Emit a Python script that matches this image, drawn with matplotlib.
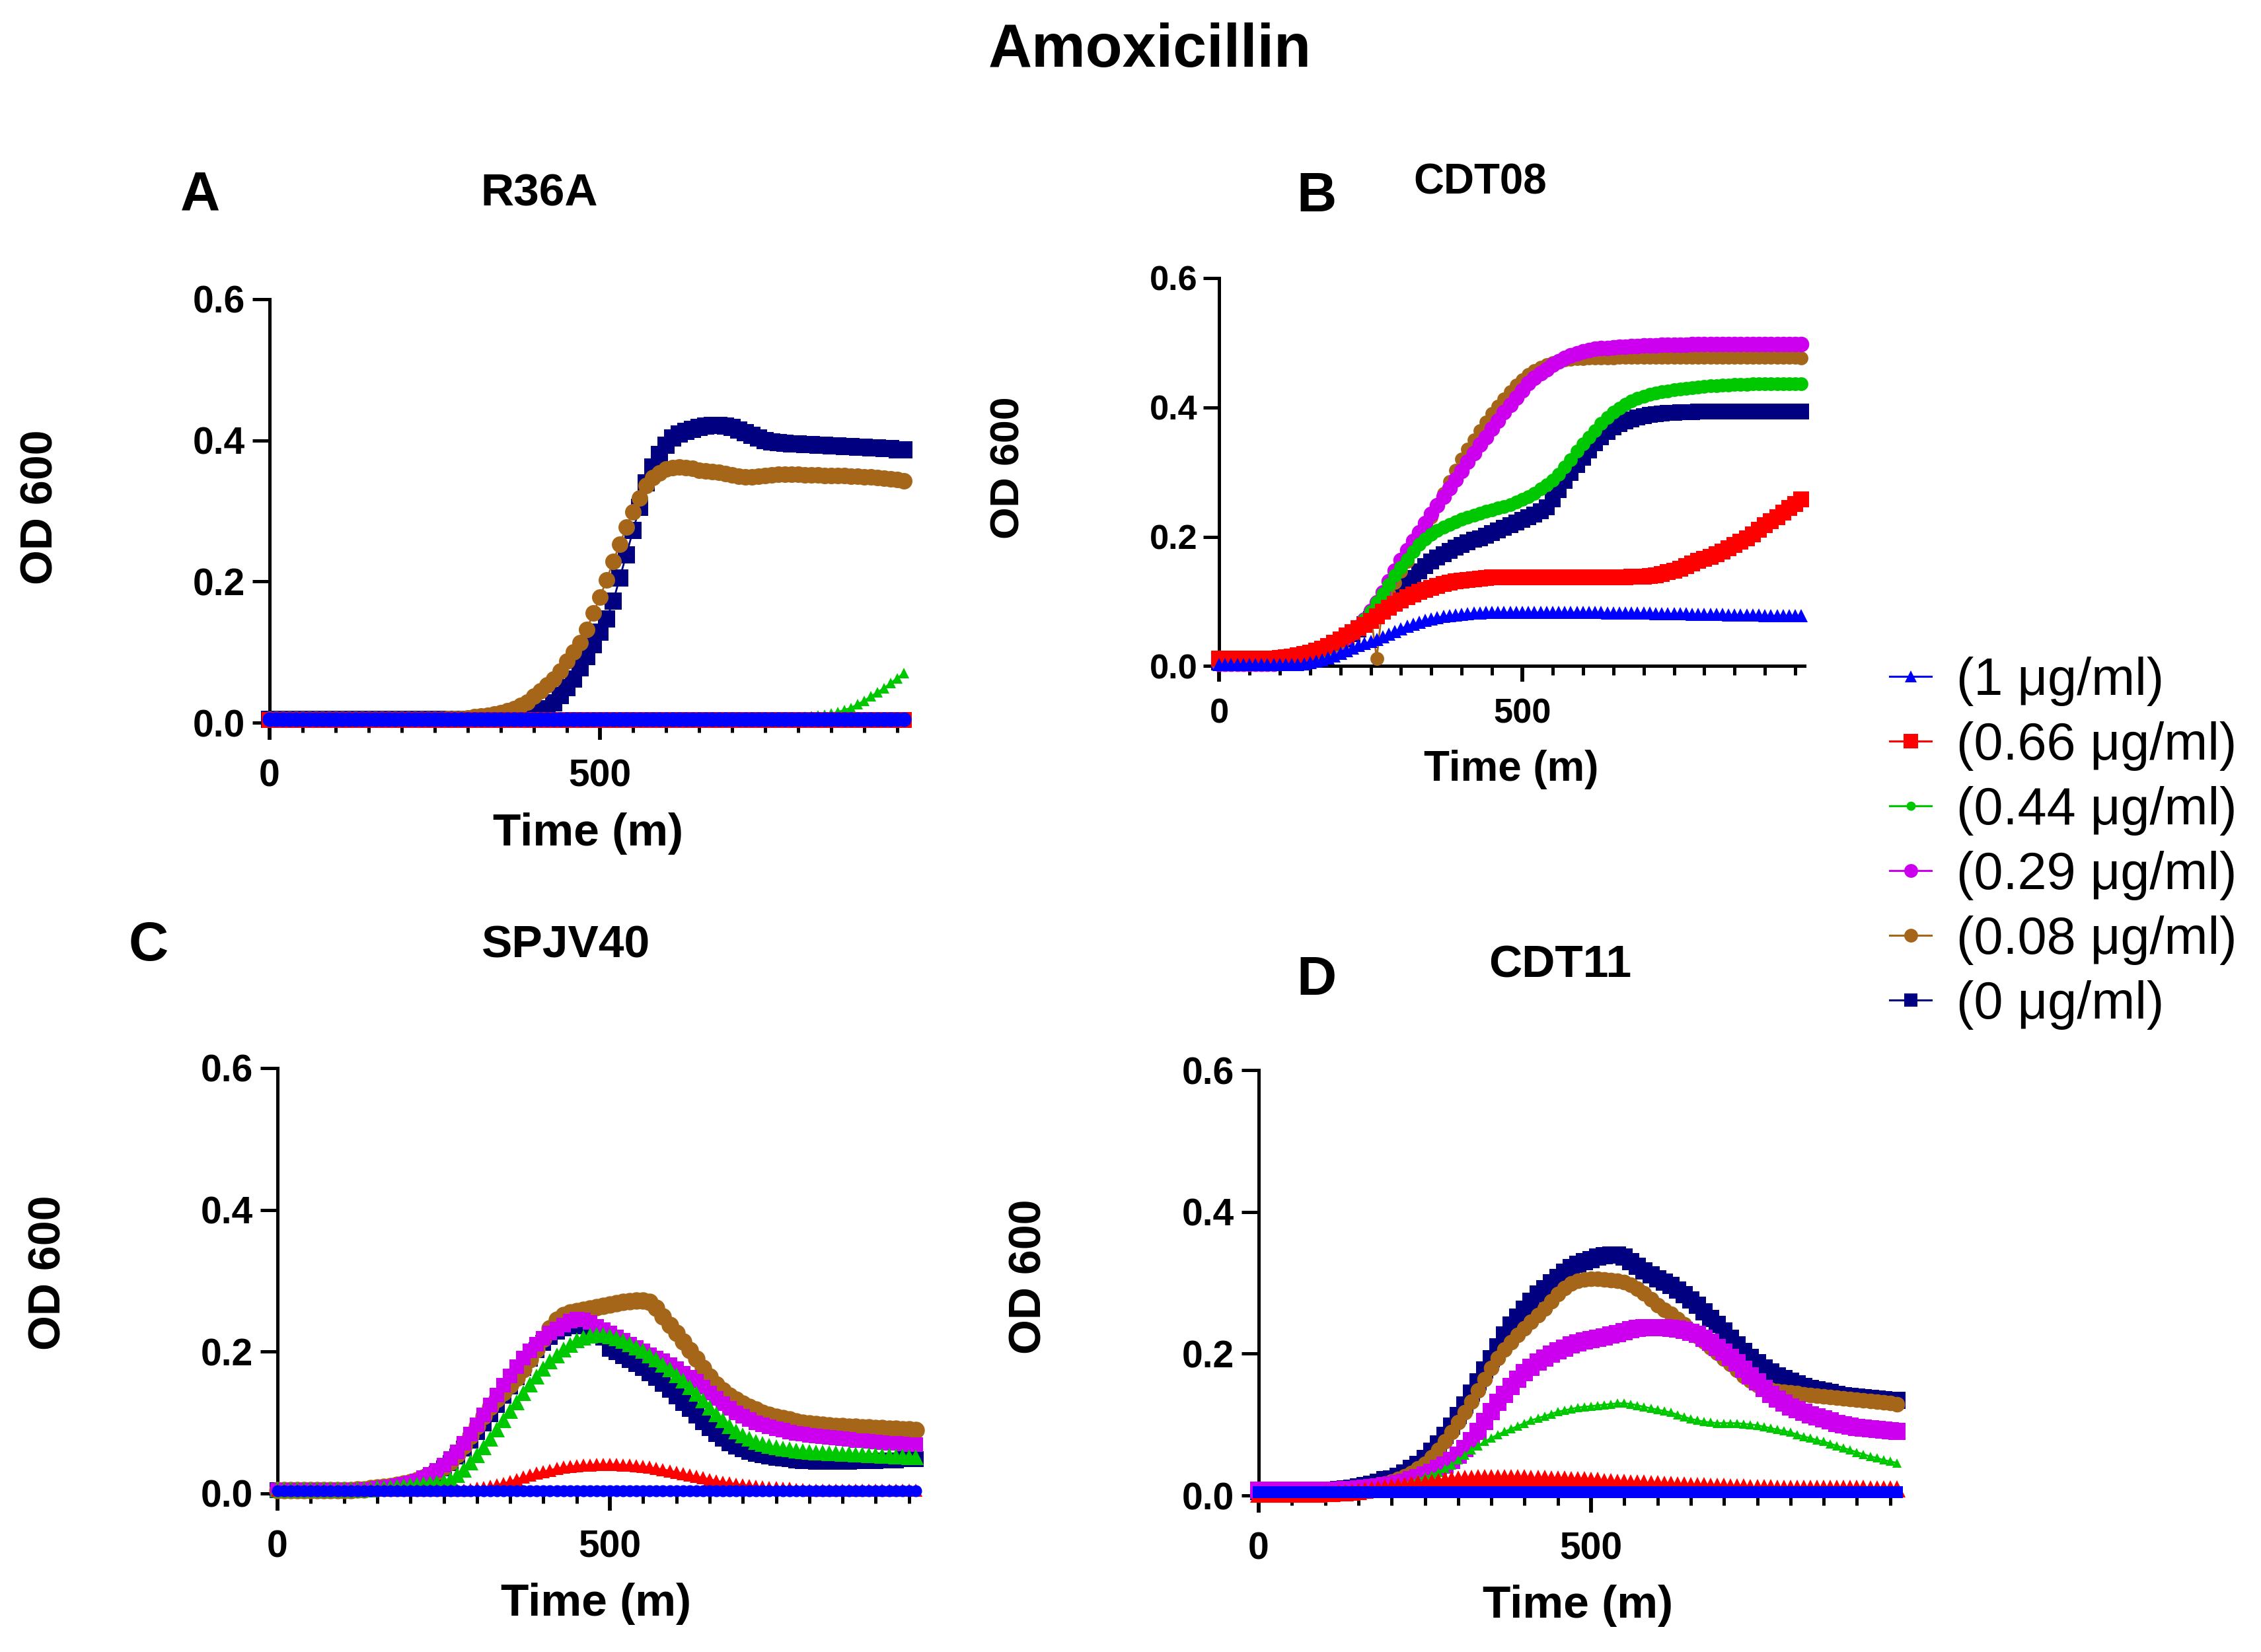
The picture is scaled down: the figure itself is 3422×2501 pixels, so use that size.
import matplotlib
matplotlib.use('Agg')
import matplotlib.pyplot as plt
from matplotlib.lines import Line2D
from matplotlib.ticker import FixedLocator, FormatStrFormatter

plt.rcParams['font.family'] = ['Liberation Sans', 'DejaVu Sans']
plt.rcParams['font.weight'] = 'bold'

W, H, DPI = 3422, 2501, 100

# ---------------- data ----------------
TIME = list(range(0, 961, 10))  # minutes

CONC_LABELS = ['(1 μg/ml)', '(0.66 μg/ml)', '(0.44 μg/ml)',
               '(0.29 μg/ml)', '(0.08 μg/ml)', '(0 μg/ml)']
COLORS = ['#0000FF', '#FF0000', '#00C800', '#CC00EE', '#A66619', '#000080']

STRAINS = ['R36A', 'CDT08', 'SPJV40', 'CDT11']
LETTERS = ['A', 'B', 'C', 'D']
TITLE = 'Amoxicillin'
XLABEL = 'Time (m)'
YLABEL = 'OD 600'
YTICKS = [0.0, 0.2, 0.4, 0.6]
XTICKS = [0, 500]

# ---- R36A ----
R36A_1 = [
 0.005,0.005,0.005,0.005,0.005,0.005,0.005,0.005,0.005,0.005,
 0.005,0.005,0.005,0.005,0.005,0.005,0.005,0.005,0.005,0.005,
 0.005,0.005,0.005,0.005,0.005,0.005,0.005,0.005,0.005,0.005,
 0.005,0.005,0.005,0.005,0.005,0.005,0.005,0.005,0.005,0.005,
 0.005,0.005,0.005,0.005,0.005,0.005,0.005,0.005,0.005,0.005,
 0.005,0.005,0.005,0.005,0.005,0.005,0.005,0.005,0.005,0.005,
 0.005,0.005,0.005,0.005,0.005,0.005,0.005,0.005,0.005,0.005,
 0.005,0.005,0.005,0.005,0.005,0.005,0.005,0.005,0.005,0.005,
 0.005,0.005,0.005,0.005,0.005,0.005,0.005,0.005,0.005,0.005,
 0.005,0.005,0.005,0.005,0.005,0.005,0.005]
R36A_066 = [
 0.004,0.004,0.004,0.004,0.004,0.004,0.004,0.004,0.004,0.004,
 0.004,0.004,0.004,0.004,0.004,0.004,0.004,0.004,0.004,0.004,
 0.004,0.004,0.004,0.004,0.004,0.004,0.004,0.004,0.004,0.004,
 0.004,0.004,0.004,0.004,0.004,0.004,0.004,0.004,0.004,0.004,
 0.004,0.004,0.004,0.004,0.004,0.004,0.004,0.004,0.004,0.004,
 0.004,0.004,0.004,0.004,0.004,0.004,0.004,0.004,0.004,0.004,
 0.004,0.004,0.004,0.004,0.004,0.004,0.004,0.004,0.004,0.004,
 0.004,0.004,0.004,0.004,0.004,0.004,0.004,0.004,0.004,0.004,
 0.004,0.004,0.004,0.004,0.004,0.004,0.004,0.004,0.004,0.004,
 0.004,0.004,0.004,0.004,0.004,0.004,0.004]
R36A_044 = [
 0.004,0.004,0.004,0.004,0.004,0.004,0.004,0.004,0.004,0.004,
 0.004,0.004,0.004,0.004,0.004,0.004,0.004,0.004,0.004,0.004,
 0.004,0.004,0.004,0.004,0.004,0.004,0.004,0.004,0.004,0.004,
 0.004,0.004,0.004,0.004,0.004,0.004,0.004,0.004,0.004,0.004,
 0.004,0.004,0.004,0.004,0.004,0.004,0.004,0.004,0.004,0.004,
 0.004,0.004,0.004,0.004,0.004,0.004,0.004,0.004,0.004,0.004,
 0.004,0.004,0.004,0.004,0.004,0.004,0.004,0.004,0.004,0.004,
 0.004,0.004,0.004,0.004,0.004,0.004,0.004,0.004,0.005,0.006,
 0.007,0.008,0.009,0.010,0.011,0.013,0.015,0.018,0.021,0.026,
 0.031,0.037,0.043,0.049,0.056,0.063,0.070]
R36A_029 = [
 0.004,0.004,0.004,0.004,0.004,0.004,0.004,0.004,0.004,0.004,
 0.004,0.004,0.004,0.004,0.004,0.004,0.004,0.004,0.004,0.004,
 0.004,0.004,0.004,0.004,0.004,0.004,0.004,0.004,0.004,0.004,
 0.004,0.004,0.004,0.004,0.004,0.004,0.004,0.004,0.004,0.004,
 0.004,0.004,0.004,0.004,0.004,0.004,0.004,0.004,0.004,0.004,
 0.004,0.004,0.004,0.004,0.004,0.004,0.004,0.004,0.004,0.004,
 0.004,0.004,0.004,0.004,0.004,0.004,0.004,0.004,0.004,0.004,
 0.004,0.004,0.004,0.004,0.004,0.004,0.004,0.004,0.004,0.004,
 0.004,0.004,0.004,0.004,0.004,0.004,0.004,0.004,0.004,0.004,
 0.004,0.004,0.004,0.004,0.004,0.004,0.004]
R36A_008 = [
 0.005,0.005,0.005,0.005,0.005,0.005,0.005,0.005,0.005,0.005,
 0.005,0.005,0.005,0.005,0.005,0.005,0.005,0.005,0.005,0.005,
 0.005,0.005,0.005,0.005,0.005,0.005,0.005,0.006,0.006,0.006,
 0.007,0.008,0.009,0.010,0.012,0.014,0.017,0.020,0.024,0.029,
 0.037,0.045,0.053,0.062,0.073,0.087,0.100,0.113,0.132,0.155,
 0.178,0.202,0.228,0.253,0.277,0.299,0.318,0.336,0.347,0.354,
 0.359,0.361,0.362,0.361,0.360,0.358,0.357,0.356,0.355,0.353,
 0.351,0.349,0.348,0.348,0.349,0.350,0.351,0.352,0.352,0.352,
 0.352,0.351,0.351,0.351,0.350,0.350,0.350,0.350,0.349,0.349,
 0.348,0.348,0.347,0.346,0.345,0.344,0.343]
R36A_0 = [
 0.005,0.005,0.005,0.005,0.005,0.005,0.005,0.005,0.005,0.005,
 0.005,0.005,0.005,0.005,0.005,0.005,0.005,0.005,0.005,0.005,
 0.005,0.005,0.005,0.005,0.005,0.005,0.005,0.005,0.005,0.005,
 0.005,0.005,0.005,0.005,0.005,0.005,0.005,0.006,0.007,0.008,
 0.010,0.015,0.020,0.028,0.038,0.050,0.062,0.078,0.094,0.110,
 0.128,0.147,0.172,0.205,0.238,0.272,0.305,0.340,0.362,0.380,
 0.393,0.403,0.409,0.413,0.416,0.418,0.420,0.421,0.421,0.420,
 0.418,0.415,0.411,0.407,0.403,0.400,0.398,0.397,0.396,0.395,
 0.395,0.394,0.394,0.393,0.393,0.392,0.392,0.391,0.391,0.390,
 0.390,0.389,0.389,0.388,0.388,0.387,0.387]

# ---- CDT08 ----
CDT08_1 = [
 0.003,0.003,0.003,0.003,0.003,0.003,0.003,0.003,0.003,0.003,
 0.003,0.003,0.003,0.003,0.004,0.006,0.008,0.010,0.013,0.016,
 0.020,0.024,0.028,0.032,0.035,0.038,0.041,0.045,0.049,0.054,
 0.058,0.062,0.065,0.068,0.071,0.073,0.075,0.077,0.078,0.079,
 0.080,0.081,0.082,0.082,0.083,0.083,0.083,0.083,0.083,0.083,
 0.083,0.083,0.083,0.083,0.083,0.083,0.083,0.083,0.083,0.083,
 0.083,0.083,0.083,0.083,0.082,0.082,0.082,0.082,0.082,0.082,
 0.082,0.082,0.081,0.081,0.081,0.081,0.081,0.081,0.080,0.080,
 0.080,0.080,0.080,0.080,0.079,0.079,0.079,0.079,0.079,0.079,
 0.078,0.078,0.078,0.078,0.078,0.078,0.078]
CDT08_066 = [
 0.012,0.012,0.012,0.012,0.012,0.012,0.012,0.012,0.012,0.012,
 0.013,0.014,0.015,0.017,0.019,0.021,0.024,0.027,0.031,0.036,
 0.041,0.047,0.053,0.059,0.064,0.070,0.077,0.084,0.090,0.096,
 0.102,0.107,0.111,0.115,0.118,0.121,0.124,0.127,0.129,0.131,
 0.132,0.133,0.134,0.135,0.136,0.137,0.137,0.137,0.137,0.137,
 0.137,0.137,0.137,0.137,0.137,0.137,0.137,0.137,0.137,0.137,
 0.137,0.137,0.137,0.137,0.137,0.137,0.137,0.137,0.138,0.138,
 0.138,0.139,0.140,0.142,0.145,0.148,0.151,0.155,0.159,0.163,
 0.166,0.169,0.173,0.177,0.182,0.187,0.192,0.198,0.204,0.211,
 0.218,0.224,0.230,0.237,0.244,0.251,0.258]
CDT08_044 = [
 0.005,0.005,0.005,0.005,0.005,0.005,0.005,0.005,0.005,0.005,
 0.006,0.007,0.008,0.010,0.012,0.015,0.018,0.022,0.027,0.032,
 0.038,0.045,0.053,0.062,0.072,0.084,0.098,0.112,0.126,0.140,
 0.153,0.165,0.177,0.188,0.197,0.204,0.210,0.215,0.219,0.223,
 0.227,0.230,0.233,0.236,0.239,0.241,0.244,0.247,0.250,0.254,
 0.258,0.262,0.267,0.274,0.280,0.287,0.297,0.308,0.319,0.332,
 0.343,0.354,0.364,0.375,0.384,0.392,0.399,0.405,0.410,0.414,
 0.417,0.420,0.422,0.424,0.425,0.427,0.428,0.429,0.430,0.431,
 0.432,0.433,0.433,0.434,0.434,0.435,0.435,0.435,0.436,0.436,
 0.436,0.436,0.436,0.436,0.436,0.436,0.436]
CDT08_029 = [
 0.004,0.004,0.004,0.004,0.004,0.004,0.004,0.004,0.004,0.004,
 0.005,0.006,0.007,0.009,0.011,0.014,0.017,0.021,0.026,0.031,
 0.037,0.044,0.052,0.061,0.072,0.085,0.099,0.114,0.131,0.148,
 0.164,0.179,0.193,0.207,0.221,0.235,0.249,0.262,0.275,0.288,
 0.302,0.316,0.329,0.342,0.354,0.367,0.379,0.392,0.404,0.415,
 0.426,0.437,0.446,0.453,0.459,0.466,0.471,0.476,0.480,0.483,
 0.486,0.488,0.490,0.491,0.492,0.493,0.494,0.494,0.495,0.495,
 0.496,0.496,0.496,0.497,0.497,0.497,0.497,0.497,0.498,0.498,
 0.498,0.498,0.498,0.498,0.498,0.498,0.498,0.498,0.498,0.498,
 0.498,0.498,0.498,0.498,0.498,0.498,0.498]
CDT08_008 = [
 0.005,0.005,0.005,0.005,0.005,0.005,0.005,0.005,0.005,0.005,
 0.006,0.007,0.008,0.010,0.012,0.015,0.018,0.022,0.027,0.032,
 0.038,0.045,0.053,0.062,0.071,0.080,0.012,0.098,0.113,0.129,
 0.146,0.162,0.178,0.195,0.212,0.230,0.249,0.267,0.285,0.303,
 0.320,0.335,0.350,0.364,0.377,0.390,0.402,0.413,0.424,0.434,
 0.443,0.451,0.457,0.462,0.466,0.469,0.471,0.473,0.474,0.475,
 0.475,0.476,0.476,0.476,0.476,0.476,0.477,0.477,0.477,0.477,
 0.477,0.477,0.477,0.477,0.477,0.477,0.477,0.477,0.477,0.477,
 0.477,0.477,0.477,0.477,0.477,0.477,0.477,0.477,0.477,0.477,
 0.477,0.477,0.477,0.477,0.477,0.477,0.476]
CDT08_0 = [
 0.006,0.006,0.006,0.006,0.006,0.006,0.006,0.006,0.006,0.006,
 0.007,0.007,0.008,0.009,0.011,0.013,0.016,0.019,0.023,0.028,
 0.034,0.041,0.049,0.057,0.065,0.073,0.081,0.089,0.097,0.106,
 0.116,0.126,0.136,0.146,0.155,0.162,0.168,0.173,0.178,0.183,
 0.187,0.191,0.195,0.198,0.202,0.206,0.210,0.214,0.218,0.222,
 0.226,0.230,0.234,0.239,0.246,0.258,0.272,0.286,0.299,0.311,
 0.322,0.333,0.344,0.354,0.362,0.369,0.374,0.378,0.381,0.384,
 0.386,0.388,0.389,0.390,0.391,0.391,0.392,0.392,0.392,0.393,
 0.393,0.393,0.393,0.393,0.393,0.393,0.393,0.393,0.393,0.393,
 0.393,0.393,0.393,0.393,0.393,0.393,0.393]

# ---- SPJV40 ----
SPJV40_1 = [
 0.004,0.004,0.004,0.004,0.004,0.004,0.004,0.004,0.004,0.004,
 0.004,0.004,0.004,0.004,0.004,0.004,0.004,0.004,0.004,0.004,
 0.004,0.004,0.004,0.004,0.004,0.004,0.004,0.004,0.004,0.004,
 0.004,0.004,0.004,0.004,0.004,0.004,0.004,0.004,0.004,0.004,
 0.004,0.004,0.004,0.004,0.004,0.004,0.004,0.004,0.004,0.004,
 0.004,0.004,0.004,0.004,0.004,0.004,0.004,0.004,0.004,0.004,
 0.004,0.004,0.004,0.004,0.004,0.004,0.004,0.004,0.004,0.004,
 0.004,0.004,0.004,0.004,0.004,0.004,0.004,0.004,0.004,0.004,
 0.004,0.004,0.004,0.004,0.004,0.004,0.004,0.004,0.004,0.004,
 0.004,0.004,0.004,0.004,0.004,0.004,0.004]
SPJV40_066 = [
 0.005,0.005,0.005,0.005,0.005,0.005,0.005,0.005,0.005,0.005,
 0.005,0.005,0.005,0.005,0.005,0.005,0.005,0.005,0.005,0.005,
 0.005,0.005,0.005,0.005,0.005,0.005,0.005,0.005,0.005,0.006,
 0.007,0.008,0.010,0.012,0.014,0.017,0.020,0.023,0.026,0.029,
 0.031,0.033,0.035,0.037,0.038,0.039,0.040,0.040,0.041,0.041,
 0.041,0.041,0.040,0.040,0.039,0.038,0.037,0.035,0.034,0.032,
 0.030,0.028,0.026,0.024,0.022,0.020,0.018,0.016,0.015,0.013,
 0.012,0.011,0.010,0.009,0.008,0.008,0.007,0.007,0.006,0.006,
 0.005,0.005,0.005,0.005,0.005,0.005,0.005,0.005,0.005,0.005,
 0.005,0.005,0.005,0.005,0.005,0.005,0.005]
SPJV40_044 = [
 0.006,0.006,0.006,0.006,0.006,0.006,0.006,0.006,0.006,0.006,
 0.006,0.006,0.006,0.006,0.006,0.007,0.007,0.008,0.009,0.010,
 0.011,0.012,0.013,0.014,0.015,0.017,0.020,0.026,0.034,0.044,
 0.054,0.065,0.077,0.090,0.103,0.116,0.129,0.142,0.154,0.165,
 0.176,0.186,0.195,0.203,0.210,0.216,0.220,0.223,0.224,0.224,
 0.222,0.219,0.215,0.211,0.206,0.201,0.195,0.189,0.182,0.175,
 0.167,0.159,0.150,0.141,0.131,0.121,0.112,0.103,0.095,0.088,
 0.082,0.077,0.073,0.070,0.067,0.065,0.063,0.062,0.061,0.060,
 0.059,0.058,0.058,0.057,0.057,0.056,0.056,0.055,0.055,0.054,
 0.054,0.053,0.053,0.052,0.052,0.051,0.051]
SPJV40_029 = [
 0.005,0.005,0.005,0.005,0.005,0.005,0.005,0.005,0.005,0.005,
 0.005,0.005,0.005,0.006,0.006,0.007,0.008,0.009,0.011,0.013,
 0.015,0.018,0.022,0.027,0.033,0.040,0.049,0.059,0.071,0.084,
 0.097,0.111,0.125,0.139,0.153,0.166,0.179,0.191,0.201,0.211,
 0.219,0.226,0.232,0.238,0.243,0.246,0.245,0.241,0.236,0.231,
 0.226,0.221,0.216,0.211,0.206,0.201,0.196,0.191,0.187,0.182,
 0.176,0.170,0.164,0.158,0.150,0.142,0.134,0.127,0.120,0.114,
 0.109,0.104,0.100,0.097,0.094,0.091,0.089,0.087,0.085,0.084,
 0.082,0.081,0.080,0.079,0.078,0.077,0.076,0.075,0.075,0.074,
 0.073,0.072,0.071,0.071,0.070,0.069,0.069]
SPJV40_008 = [
 0.005,0.005,0.005,0.005,0.005,0.005,0.005,0.005,0.005,0.005,
 0.005,0.005,0.006,0.006,0.007,0.008,0.009,0.010,0.012,0.014,
 0.016,0.019,0.022,0.026,0.031,0.037,0.045,0.055,0.067,0.081,
 0.095,0.109,0.122,0.133,0.143,0.153,0.163,0.175,0.189,0.203,
 0.218,0.233,0.245,0.252,0.255,0.257,0.259,0.261,0.263,0.265,
 0.266,0.268,0.270,0.271,0.272,0.272,0.270,0.262,0.250,0.238,
 0.226,0.214,0.202,0.190,0.177,0.165,0.154,0.145,0.138,0.132,
 0.127,0.122,0.118,0.114,0.111,0.108,0.106,0.104,0.102,0.100,
 0.099,0.098,0.097,0.096,0.095,0.095,0.094,0.094,0.093,0.093,
 0.092,0.092,0.091,0.091,0.090,0.090,0.089]
SPJV40_0 = [
 0.005,0.005,0.005,0.005,0.005,0.005,0.005,0.005,0.005,0.005,
 0.005,0.005,0.005,0.006,0.006,0.007,0.008,0.009,0.010,0.012,
 0.014,0.016,0.019,0.023,0.028,0.035,0.043,0.052,0.063,0.075,
 0.087,0.099,0.112,0.125,0.138,0.151,0.164,0.177,0.190,0.202,
 0.212,0.221,0.228,0.233,0.236,0.237,0.236,0.233,0.227,0.220,
 0.204,0.199,0.194,0.188,0.183,0.177,0.170,0.163,0.155,0.146,
 0.137,0.128,0.119,0.110,0.101,0.092,0.084,0.077,0.071,0.066,
 0.062,0.059,0.056,0.054,0.052,0.050,0.049,0.048,0.047,0.046,
 0.046,0.045,0.045,0.045,0.045,0.045,0.045,0.046,0.046,0.046,
 0.046,0.047,0.047,0.047,0.048,0.048,0.048]

# ---- CDT11 ----
CDT11_1 = [
 0.005,0.005,0.005,0.005,0.005,0.005,0.005,0.005,0.005,0.005,
 0.005,0.005,0.005,0.005,0.005,0.005,0.005,0.005,0.005,0.005,
 0.005,0.005,0.005,0.005,0.005,0.005,0.005,0.005,0.005,0.005,
 0.005,0.005,0.005,0.005,0.005,0.005,0.005,0.005,0.005,0.005,
 0.005,0.005,0.005,0.005,0.005,0.005,0.005,0.005,0.005,0.005,
 0.005,0.005,0.005,0.005,0.005,0.005,0.005,0.005,0.005,0.005,
 0.005,0.005,0.005,0.005,0.005,0.005,0.005,0.005,0.005,0.005,
 0.005,0.005,0.005,0.005,0.005,0.005,0.005,0.005,0.005,0.005,
 0.005,0.005,0.005,0.005,0.005,0.005,0.005,0.005,0.005,0.005,
 0.005,0.005,0.005,0.005,0.005,0.005,0.005]
CDT11_066 = [
 0.002,0.002,0.002,0.002,0.002,0.002,0.002,0.002,0.002,0.002,
 0.003,0.003,0.004,0.004,0.005,0.006,0.007,0.008,0.009,0.011,
 0.012,0.013,0.014,0.016,0.017,0.018,0.019,0.020,0.021,0.022,
 0.023,0.024,0.024,0.025,0.025,0.025,0.025,0.025,0.025,0.025,
 0.025,0.024,0.024,0.024,0.023,0.023,0.023,0.022,0.022,0.022,
 0.021,0.021,0.020,0.020,0.019,0.019,0.018,0.018,0.018,0.017,
 0.017,0.016,0.016,0.015,0.015,0.014,0.014,0.014,0.013,0.013,
 0.013,0.012,0.012,0.012,0.011,0.011,0.011,0.011,0.010,0.010,
 0.010,0.010,0.010,0.010,0.010,0.010,0.010,0.010,0.010,0.010,
 0.010,0.010,0.009,0.009,0.009,0.009,0.009]
CDT11_044 = [
 0.006,0.006,0.006,0.006,0.006,0.006,0.006,0.006,0.006,0.006,
 0.006,0.006,0.006,0.006,0.006,0.006,0.007,0.008,0.009,0.011,
 0.013,0.015,0.017,0.020,0.023,0.026,0.029,0.033,0.038,0.043,
 0.050,0.057,0.064,0.070,0.076,0.081,0.086,0.090,0.094,0.098,
 0.102,0.106,0.109,0.112,0.115,0.118,0.120,0.122,0.124,0.125,
 0.126,0.127,0.128,0.129,0.130,0.130,0.129,0.127,0.125,0.123,
 0.121,0.119,0.117,0.114,0.111,0.108,0.106,0.104,0.103,0.102,
 0.102,0.102,0.102,0.101,0.100,0.099,0.097,0.095,0.093,0.091,
 0.089,0.086,0.083,0.081,0.078,0.076,0.073,0.070,0.067,0.064,
 0.061,0.058,0.055,0.053,0.050,0.048,0.046]
CDT11_029 = [
 0.007,0.007,0.007,0.007,0.007,0.007,0.007,0.007,0.007,0.007,
 0.007,0.007,0.007,0.008,0.008,0.009,0.010,0.011,0.012,0.014,
 0.015,0.017,0.019,0.022,0.025,0.029,0.033,0.038,0.043,0.049,
 0.057,0.066,0.077,0.090,0.104,0.118,0.131,0.143,0.154,0.164,
 0.173,0.181,0.188,0.194,0.199,0.204,0.208,0.212,0.215,0.218,
 0.220,0.222,0.224,0.226,0.228,0.231,0.234,0.236,0.237,0.237,
 0.237,0.237,0.236,0.235,0.233,0.230,0.227,0.222,0.216,0.209,
 0.202,0.195,0.187,0.178,0.169,0.160,0.151,0.143,0.136,0.130,
 0.125,0.121,0.117,0.114,0.111,0.108,0.105,0.102,0.100,0.098,
 0.096,0.095,0.094,0.093,0.092,0.091,0.090]
CDT11_008 = [
 0.006,0.006,0.006,0.006,0.006,0.006,0.006,0.006,0.006,0.006,
 0.006,0.006,0.007,0.008,0.009,0.010,0.011,0.013,0.015,0.017,
 0.020,0.023,0.027,0.032,0.038,0.045,0.054,0.064,0.076,0.089,
 0.103,0.117,0.132,0.148,0.164,0.180,0.194,0.206,0.216,0.226,
 0.236,0.245,0.254,0.264,0.274,0.284,0.293,0.299,0.303,0.305,
 0.306,0.306,0.305,0.304,0.303,0.301,0.297,0.292,0.285,0.277,
 0.268,0.262,0.256,0.249,0.241,0.233,0.225,0.217,0.209,0.201,
 0.193,0.185,0.177,0.169,0.162,0.156,0.152,0.149,0.147,0.146,
 0.145,0.144,0.143,0.142,0.141,0.140,0.139,0.138,0.137,0.136,
 0.135,0.134,0.133,0.132,0.131,0.130,0.129]
CDT11_0 = [
 0.006,0.006,0.006,0.006,0.006,0.006,0.006,0.006,0.006,0.006,
 0.006,0.007,0.008,0.009,0.010,0.012,0.014,0.016,0.019,0.022,
 0.023,0.027,0.032,0.038,0.044,0.052,0.062,0.073,0.085,0.098,
 0.113,0.128,0.144,0.160,0.177,0.193,0.210,0.226,0.240,0.252,
 0.263,0.274,0.284,0.292,0.300,0.307,0.315,0.321,0.326,0.330,
 0.333,0.336,0.338,0.339,0.339,0.336,0.330,0.323,0.317,0.311,
 0.306,0.301,0.296,0.290,0.283,0.276,0.268,0.259,0.250,0.241,
 0.232,0.222,0.212,0.203,0.195,0.187,0.180,0.174,0.169,0.165,
 0.161,0.157,0.154,0.151,0.149,0.147,0.145,0.143,0.141,0.140,
 0.139,0.138,0.137,0.136,0.135,0.134,0.134]

PANEL_DATA = [
    [R36A_1, R36A_066, R36A_044, R36A_029, R36A_008, R36A_0],
    [CDT08_1, CDT08_066, CDT08_044, CDT08_029, CDT08_008, CDT08_0],
    [SPJV40_1, SPJV40_066, SPJV40_044, SPJV40_029, SPJV40_008, SPJV40_0],
    [CDT11_1, CDT11_066, CDT11_044, CDT11_029, CDT11_008, CDT11_0],
]
for series_list in PANEL_DATA:
    for s in series_list:
        assert len(s) == len(TIME), len(s)

# ---------------- layout / style ----------------
XLIM = (-10, 965)
# (x of y-axis px, px per minute, y of OD=0 px, y of OD=0.6 px)
GEOM = [(408, 1.000, 1094, 453),
        (1845, 0.918, 1008.5, 420.7),
        (420, 1.006, 2261, 1617),
        (1905, 1.006, 2264, 1620)]
# marker style per series (legend order) for each panel
MARKERS = [
    [('o', 16), ('s', 17), ('^', 11), ('o', 14), ('o', 18), ('s', 19)],
    [('^', 14), ('s', 17), ('o', 15), ('o', 17), ('o', 15), ('s', 17)],
    [('o', 13), ('^', 15), ('^', 17), ('s', 16), ('o', 19), ('s', 17)],
    [('s', 13), ('^', 19), ('^', 10), ('s', 19), ('o', 17), ('s', 19)],
]
SCALE = [1.0, 0.918, 1.0, 1.0]
LETTER_POS = [(303, 297), (1993, 298), (225, 1432), (1993, 1484)]
STRAIN_POS = [(816, 294), (2240, 277), (857, 1431), (2361, 1461)]
YLAB_POS = [(62, 768), (1527, 708), (74, 1927), (1557, 1933)]
XLAB_POS = [(890, 1262), (2287, 1165), (902, 2428), (2388, 2431)]


def fx(x):
    return x / W


def fy(y):
    return 1 - y / H


fig = plt.figure(figsize=(W / DPI, H / DPI), dpi=DPI)
fig.patch.set_facecolor('white')

fig.text(fx(1740), fy(77), TITLE, ha='center', va='center',
         fontsize=66, fontweight='bold')

for p in range(4):
    x0, pxu, y0, y6 = GEOM[p]
    s = SCALE[p]
    left = x0 + XLIM[0] * pxu
    width = (XLIM[1] - XLIM[0]) * pxu
    ax = fig.add_axes([fx(left), fy(y0), width / W, (y0 - y6) / H])
    ax.set_xlim(*XLIM)
    ax.set_ylim(0, 0.6)
    ax.patch.set_alpha(0)

    for k in [5, 4, 3, 2, 1, 0]:  # draw no-drug first, highest dose last
        m, ms = MARKERS[p][k]
        ax.plot(TIME, PANEL_DATA[p][k], color=COLORS[k], lw=2,
                marker=m, ms=ms, mec=COLORS[k], mfc=COLORS[k],
                mew=0, clip_on=False, zorder=3 + (5 - k))

    for side in ['top', 'right']:
        ax.spines[side].set_visible(False)
    ax.spines['left'].set_position(('data', 0))
    for side in ['left', 'bottom']:
        ax.spines[side].set_linewidth(3.6)
    ax.set_xticks(XTICKS)
    ax.xaxis.set_minor_locator(FixedLocator(list(range(50, 951, 50))))
    ax.set_yticks(YTICKS)
    ax.yaxis.set_major_formatter(FormatStrFormatter('%.1f'))
    ax.tick_params(axis='y', which='major', direction='out',
                   length=19 * s, width=3.6, labelsize=41 * s,
                   pad=8 * s if p != 1 else 6)
    ax.tick_params(axis='x', which='major', direction='out',
                   length=19 * s, width=4.2, labelsize=41 * s,
                   pad=20 * s if p != 1 else 17)
    ax.tick_params(axis='x', which='minor', direction='out',
                   length=11 * s, width=3.6)
    for lab in ax.get_xticklabels() + ax.get_yticklabels():
        lab.set_fontweight('bold')

    fig.text(fx(LETTER_POS[p][0]), fy(LETTER_POS[p][1]), LETTERS[p],
             ha='center', va='center', fontsize=60, fontweight='bold')
    fig.text(fx(STRAIN_POS[p][0]), fy(STRAIN_POS[p][1]), STRAINS[p],
             ha='center', va='center', fontsize=50 * s, fontweight='bold')
    fig.text(fx(YLAB_POS[p][0]), fy(YLAB_POS[p][1]), YLABEL,
             ha='center', va='center', rotation=90,
             fontsize=49 * s, fontweight='bold')
    fig.text(fx(XLAB_POS[p][0]), fy(XLAB_POS[p][1]), XLABEL,
             ha='center', va='center', fontsize=50 * s, fontweight='bold')

# legend
LEG_MARKERS = [('^', 13), ('s', 16), ('o', 10), ('o', 15), ('o', 15), ('s', 15)]
handles = [Line2D([], [], color=COLORS[k], lw=2.2, marker=LEG_MARKERS[k][0],
                  ms=LEG_MARKERS[k][1], mew=0) for k in range(6)]
fig.legend(handles, CONC_LABELS, loc='upper left',
           bbox_to_anchor=(fx(2860), fy(994)), frameon=False,
           prop={'family': ['Liberation Sans', 'DejaVu Sans'],
                 'weight': 'normal', 'size': 57},
           handlelength=0.8, handletextpad=0.47, labelspacing=0.29,
           borderpad=0, borderaxespad=0)

fig.savefig('out.png', dpi=DPI, facecolor='white')
